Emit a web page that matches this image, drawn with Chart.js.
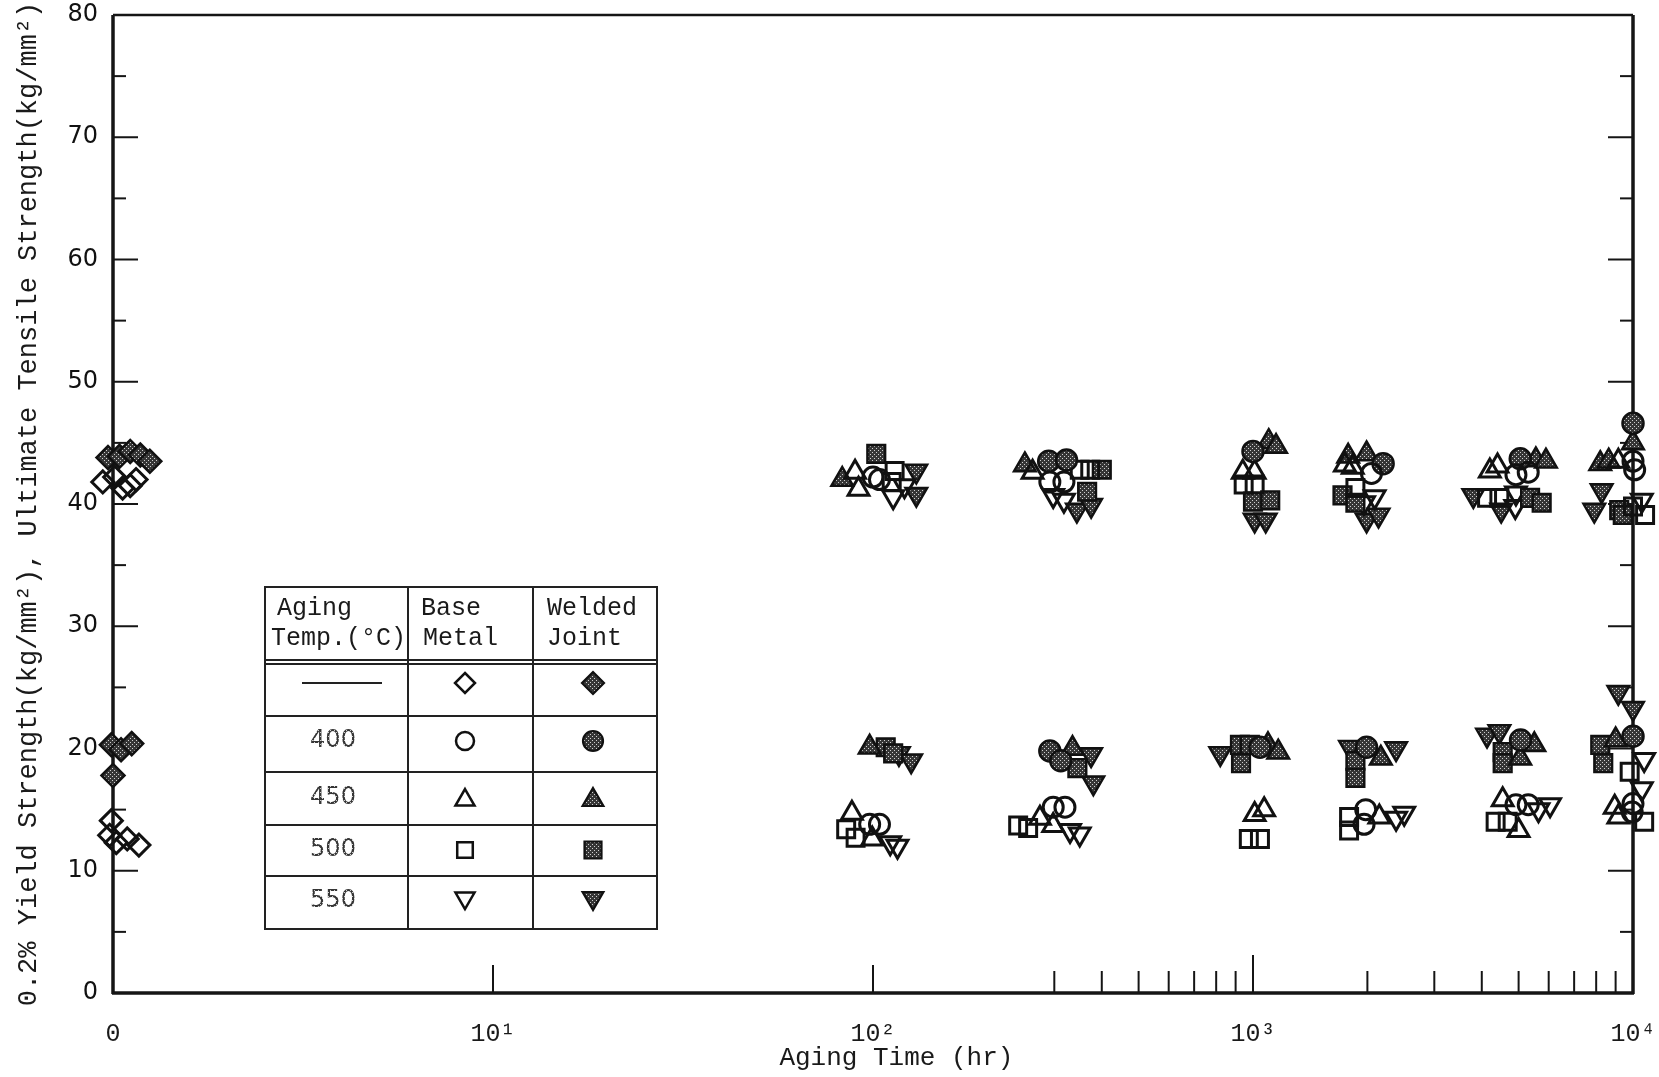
<!DOCTYPE html>
<html>
<head>
<meta charset="utf-8">
<script src="https://cdn.jsdelivr.net/npm/chart.js@4.4.0/dist/chart.umd.min.js"></script>
<style>
  body { margin: 0; background: #fff; }
  canvas { display: block; }
</style>
</head>
<body>
<canvas id="chart" width="1659" height="1077"></canvas>
<script>
// Aging time (hr) on a log axis; "0" (as received) sits at 1 hr
const xTickValues = [1, 10, 100, 1000, 10000];
const xTickLabels = ['0', '10¹', '10²', '10³', '10⁴'];

// legend rows
const tempLabels = ['', '400', '450', '500', '550'];

// [aging time (hr), strength (kg/mm2)] - upper band = UTS, lower band = 0.2% YS
const baseNone = [[0.94, 41.8], [1.01, 42.2], [1.06, 41.3], [1.11, 41.5], [1.15, 42.0],
  [0.99, 14.1], [0.98, 12.9], [1.02, 12.3], [1.09, 12.6], [1.17, 12.1]];
const weldNone = [[0.97, 43.8], [1.04, 43.9], [1.11, 44.3], [1.18, 44.0], [1.25, 43.5],
  [0.99, 20.3], [1.05, 19.9], [1.12, 20.4], [1.0, 17.8]];

const base400 = [[100, 42.2], [104, 42.0], [292, 41.8], [318, 41.8], [2050, 42.5], [4920, 42.4], [5300, 42.6], [10000, 43.5], [10100, 42.8],
  [98, 13.8], [104, 13.8], [298, 15.2], [320, 15.2], [1980, 15.0], [1960, 13.8], [4920, 15.4], [5300, 15.4], [10000, 15.5], [9950, 14.8]];
const weld400 = [[290, 43.5], [323, 43.6], [1000, 44.3], [2200, 43.3], [5050, 43.7], [10000, 46.6],
  [292, 19.8], [312, 19.0], [1043, 20.1], [1990, 20.1], [5060, 20.7], [10000, 21.0]];

const base450 = [[89.7, 42.6], [91.6, 41.2], [263, 42.6], [940, 42.6], [1010, 42.6], [1745, 43.2], [1830, 43.0], [4400, 43.1], [4200, 42.7], [9150, 43.5],
  [88, 14.7], [99.5, 12.6], [275, 14.3], [298, 13.7], [1010, 14.6], [1070, 15.0], [2150, 14.4], [4540, 15.8], [5000, 13.3], [8950, 15.2], [9150, 14.4]];
const weld450 = [[83, 42.0], [251, 43.2], [1100, 45.1], [1150, 44.7], [1780, 43.9], [1990, 44.1], [5550, 43.6], [5900, 43.5], [10000, 45.0], [8200, 43.3], [8630, 43.5],
  [98, 20.1], [335, 20.0], [1095, 20.3], [1165, 19.7], [2170, 19.2], [5500, 20.3], [5050, 19.2], [9000, 20.7], [11100, 21.0]];

const base500 = [[114, 42.7], [112, 41.8], [350, 42.8], [373, 42.8], [945, 41.6], [1010, 41.6], [1860, 41.3], [4130, 40.5], [4450, 40.5], [10000, 39.8], [10760, 39.1],
  [85, 13.4], [90, 12.7], [241, 13.7], [256, 13.5], [975, 12.6], [1043, 12.6], [1790, 14.4], [1790, 13.3], [4350, 14.0], [4680, 14.0], [9800, 18.1], [10700, 14.0]];
const weld500 = [[102, 44.1], [400, 42.8], [366, 41.0], [1000, 40.2], [1110, 40.3], [1720, 40.7], [1860, 40.1], [5360, 40.5], [5750, 40.1], [9200, 39.5], [9400, 39.1],
  [108, 20.1], [113, 19.6], [345, 18.4], [924, 20.3], [981, 20.3], [930, 18.8], [1860, 19.0], [1860, 17.6], [4540, 19.7], [4540, 18.8], [8200, 20.3], [8350, 18.8]];

const base550 = [[113, 40.6], [121, 41.5], [298, 40.7], [318, 40.3], [2090, 40.6], [1960, 40.1], [4920, 40.9], [4900, 39.8], [10550, 40.3],
  [111, 12.3], [116, 12.0], [330, 13.3], [350, 13.0], [2380, 14.3], [2500, 14.7], [5640, 15.0], [6050, 15.4], [10700, 19.1], [10550, 16.7]];
const weld550 = [[130, 42.7], [130, 40.8], [344, 39.5], [375, 39.9], [1010, 38.7], [1080, 38.7], [1990, 38.7], [2140, 39.1], [3800, 40.7], [4500, 39.5], [8270, 41.1], [7910, 39.5],
  [117, 19.6], [126, 19.0], [375, 19.5], [380, 17.2], [820, 19.6], [1800, 20.1], [2380, 20.0], [4130, 21.1], [4450, 21.4], [9150, 24.6], [10000, 23.3]];

const canvas = document.getElementById('chart');
const ctx = canvas.getContext('2d');

//stippled grey fill for the welded joint markers
const pc = document.createElement('canvas');
pc.width = 4; pc.height = 4;
const pctx = pc.getContext('2d');
pctx.fillStyle = '#363636';
pctx.fillRect(0, 0, 4, 4);
pctx.fillStyle = '#cfcfcf';
pctx.fillRect(0, 0, 1, 1);
pctx.fillRect(2, 2, 1, 1);
const stipple = ctx.createPattern(pc, 'repeat');

const markerStyles = ['rectRot', 'circle', 'triangle', 'rect', 'triangle'];
const markerRot = [0, 0, 0, 0, 180];
const markerSize = [11, 10, 12, 12, 12];

function series(label, data, row, filled) {
    return {
        label: label,
        data: data.map(p => ({ x: p[0], y: p[1] })),
        pointStyle: markerStyles[row],
        pointRotation: markerRot[row],
        pointRadius: markerSize[row] + (filled ? 0.5 : 0),
        backgroundColor: filled ? stipple : 'rgba(0,0,0,0)',
        borderColor: '#111',
        borderWidth: filled ? 2.5 : 3,
        showLine: false,
        clip: false
    };
}

//draw a marker the way chart.js does, for the legend table
function drawMarker(c, row, x, y, r, filled) {
    const style = markerStyles[row];
    c.beginPath();
    if (style === 'circle') {
        c.arc(x, y, r, 0, Math.PI * 2);
    } else if (style === 'rect') {
        const s = r * Math.SQRT1_2;
        c.rect(x - s, y - s, 2 * s, 2 * s);
    } else if (style === 'rectRot') {
        c.moveTo(x, y - r); c.lineTo(x + r, y); c.lineTo(x, y + r); c.lineTo(x - r, y);
        c.closePath();
    } else {
        const rot = markerRot[row] * Math.PI / 180;
        for (let k = 0; k < 3; k++) {
            const a = rot - Math.PI / 2 + k * 2 * Math.PI / 3;
            if (k === 0) c.moveTo(x + r * Math.cos(a), y + r * Math.sin(a));
            else c.lineTo(x + r * Math.cos(a), y + r * Math.sin(a));
        }
        c.closePath();
    }
    c.fillStyle = filled ? stipple : '#fff';
    c.fill();
    c.lineWidth = filled ? 2.2 : 2.5;
    c.strokeStyle = '#111';
    c.stroke();
}

//frame and inward ticks
const framePlugin = {
    id: 'frame',
    beforeDatasetsDraw(chart) {
        const c = chart.ctx;
        const a = chart.chartArea;
        const x = chart.scales.x;
        const y = chart.scales.y;
        const line = (x1, y1, x2, y2) => { c.beginPath(); c.moveTo(x1, y1); c.lineTo(x2, y2); c.stroke(); };
        c.save();
        c.strokeStyle = '#151515';
        c.lineWidth = 2;
        for (let v = 5; v < 80; v += 5) {
            const py = y.getPixelForValue(v);
            const len = v % 10 === 0 ? 25 : 13;
            line(a.left, py, a.left + len, py);
            line(a.right - len, py, a.right, py);
        }
        const minor = [300, 400, 500, 600, 700, 800, 900, 2000, 3000, 4000, 5000, 6000, 7000, 8000, 9000];
        minor.forEach(v => {
            const px = x.getPixelForValue(v);
            line(px, a.bottom, px, a.bottom - 22);
        });
        [10, 100].forEach(v => {
            const px = x.getPixelForValue(v);
            line(px, a.bottom, px, a.bottom - 28);
        });
        const p3 = x.getPixelForValue(1000);
        line(p3, a.bottom, p3, a.bottom - 38);

        c.lineWidth = 3.5;
        line(a.left, a.top, a.left, a.bottom + 1);
        line(a.left - 1, a.bottom, a.right + 1, a.bottom);
        line(a.right, a.top, a.right, a.bottom + 1);
        c.lineWidth = 2.5;
        line(a.left, a.top, a.right, a.top);
        c.restore();
    }
};

const legendPlugin = {
    id: 'legendTable',
    afterDraw(chart) {
        const c = chart.ctx;
        const cols = [265, 408, 533, 657];
        const rows = [587, 660, 716, 772, 825, 876, 929];
        const rowMid = [683, 741, 798, 850, 901];
        const line = (x1, y1, x2, y2) => { c.beginPath(); c.moveTo(x1, y1); c.lineTo(x2, y2); c.stroke(); };
        c.save();
        c.fillStyle = '#fff';
        c.fillRect(cols[0], rows[0], cols[3] - cols[0], rows[6] - rows[0]);
        c.strokeStyle = '#222';
        c.lineWidth = 2;
        c.strokeRect(cols[0], rows[0], cols[3] - cols[0], rows[6] - rows[0]);
        line(cols[1], rows[0], cols[1], rows[6]);
        line(cols[2], rows[0], cols[2], rows[6]);
        line(cols[0], rows[1], cols[3], rows[1]);
        line(cols[0], rows[1] + 4, cols[3], rows[1] + 4);
        for (let i = 2; i < 6; i++) line(cols[0], rows[i], cols[3], rows[i]);

        c.fillStyle = '#1a1a1a';
        c.textBaseline = 'middle';
        c.textAlign = 'left';
        c.font = '25px "Liberation Mono", "DejaVu Sans Mono", monospace';
        c.fillText('Aging', 277, 608);
        c.fillText('Temp.(°C)', 271, 638);
        c.fillText('Base', 421, 608);
        c.fillText('Metal', 423, 638);
        c.fillText('Welded', 547, 608);
        c.fillText('Joint', 547, 638);

        c.textAlign = 'center';
        c.font = '24px "DejaVu Sans", sans-serif';
        tempLabels.forEach((t, i) => {
            if (t === '') {
                c.lineWidth = 2;
                line(302, rowMid[i], 382, rowMid[i]);
            } else {
                c.fillText(t, 333, rowMid[i]);
            }
            const ym = markerRot[i] === 180 ? rowMid[i] - 3 : (markerStyles[i] === 'triangle' ? rowMid[i] + 2 : rowMid[i]);
            drawMarker(c, i, 465, ym, markerSize[i] - 1, false);
            drawMarker(c, i, 593, ym, markerSize[i], true);
        });
        c.restore();
    }
};

new Chart(ctx, {
    type: 'scatter',
    data: {
        datasets: [
            series('Base, as received', baseNone, 0, false),
            series('Welded, as received', weldNone, 0, true),
            series('Base 400', base400, 1, false),
            series('Welded 400', weld400, 1, true),
            series('Base 450', base450, 2, false),
            series('Welded 450', weld450, 2, true),
            series('Base 500', base500, 3, false),
            series('Welded 500', weld500, 3, true),
            series('Base 550', base550, 4, false),
            series('Welded 550', weld550, 4, true)
        ]
    },
    options: {
        responsive: false,
        animation: false,
        events: [],
        layout: { padding: { top: 15, right: 26, left: 0, bottom: 0 } },
        scales: {
            x: {
                type: 'logarithmic',
                min: 1,
                max: 10000,
                afterBuildTicks: s => { s.ticks = xTickValues.map(v => ({ value: v })); },
                afterFit: s => { s.height = 84; s.paddingLeft = 0; s.paddingRight = 0; },
                grid: { display: false },
                border: { display: false },
                ticks: {
                    autoSkip: false,
                    maxRotation: 0,
                    padding: 18,
                    color: '#1a1a1a',
                    font: { family: '"Liberation Mono", "DejaVu Sans Mono", monospace', size: 25 },
                    callback: v => xTickLabels[xTickValues.indexOf(v)]
                },
                title: {
                    display: true,
                    text: '   Aging Time (hr)',
                    color: '#1a1a1a',
                    font: { family: '"Liberation Mono", "DejaVu Sans Mono", monospace', size: 26 },
                    padding: { top: 0, bottom: 3 }
                }
            },
            y: {
                min: 0,
                max: 80,
                afterFit: s => { s.width = 113; s.paddingTop = 0; s.paddingBottom = 0; },
                grid: { display: false },
                border: { display: false },
                ticks: {
                    stepSize: 10,
                    padding: 7,
                    color: '#111',
                    font: { family: '"DejaVu Sans", sans-serif', size: 24 }
                },
                title: {
                    display: true,
                    text: '0.2% Yield Strength(kg/mm²), Ultimate Tensile Strength(kg/mm²)',
                    color: '#1a1a1a',
                    font: { family: '"Liberation Mono", "DejaVu Sans Mono", monospace', size: 27 },
                    padding: { top: 13, bottom: 0 }
                }
            }
        },
        plugins: {
            legend: { display: false },
            tooltip: { enabled: false }
        }
    },
    plugins: [framePlugin, legendPlugin]
});
</script>
</body>
</html>
